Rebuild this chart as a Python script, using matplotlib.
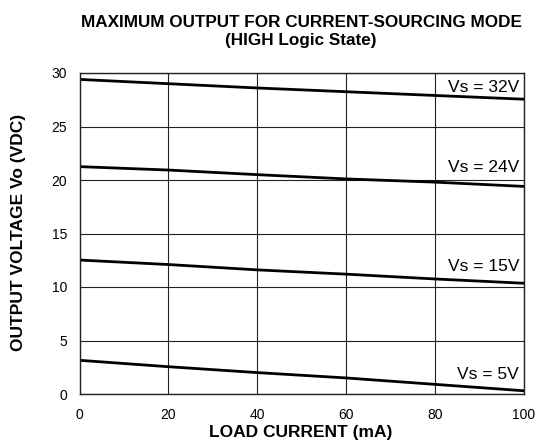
import numpy as np
import matplotlib.pyplot as plt

plt.rcParams['font.family'] = ['Liberation Sans', 'DejaVu Sans']

# load current (mA)
current = [0, 20, 40, 60, 80, 100]

# output voltage for each supply voltage
vo_32 = [29.4, 29.0, 28.6, 28.25, 27.9, 27.55]
vo_24 = [21.25, 20.93, 20.5, 20.1, 19.8, 19.4]
vo_15 = [12.52, 12.1, 11.6, 11.2, 10.75, 10.35]
vo_5 = [3.15, 2.55, 2.0, 1.5, 0.9, 0.3]

series = [("Vs = 32V", vo_32, 28.25), ("Vs = 24V", vo_24, 20.77),
          ("Vs = 15V", vo_15, 11.5), ("Vs = 5V", vo_5, 1.37)]

xticks = [0, 20, 40, 60, 80, 100]
yticks = [0, 5, 10, 15, 20, 25, 30]

W, H = 537, 443
fig = plt.figure(figsize=(W / 100, H / 100), dpi=100)
ax = fig.add_axes([79.5 / W, 1 - 394 / H, (524 - 79.5) / W, (394 - 73) / H])

for label, vals, ty in series:
    ax.plot(current, vals, color='black', lw=2.0, solid_capstyle='butt')
    ax.text(98.9, ty, label, ha='right', va='baseline', fontsize=12.5)

ax.set_xlim(0, 100)
ax.set_ylim(0, 30)
ax.set_xticks(xticks)
ax.set_yticks(yticks)
ax.grid(True, color='#222222', lw=0.8)
ax.tick_params(length=0, labelsize=10, pad=9)
ax.tick_params(axis='x', pad=10)
for s in ax.spines.values():
    s.set_linewidth(1.0)
    s.set_color('#222222')

fig.text(300.5 / W, 1 - 437 / H, "LOAD CURRENT (mA)", ha='center', va='baseline',
         fontsize=12.5, fontweight='bold')
fig.text(19 / W, 1 - 232 / H, "OUTPUT VOLTAGE Vo (VDC)", ha='center', va='center',
         rotation=90, fontsize=12.5, fontweight='bold')
fig.text(301 / W, 1 - 26.7 / H, "MAXIMUM OUTPUT FOR CURRENT-SOURCING MODE",
         ha='center', va='baseline', fontsize=12.3, fontweight='bold')
fig.text(301 / W, 1 - 45 / H, "(HIGH Logic State)",
         ha='center', va='baseline', fontsize=12.3, fontweight='bold')

fig.savefig("out.png", dpi=100)
